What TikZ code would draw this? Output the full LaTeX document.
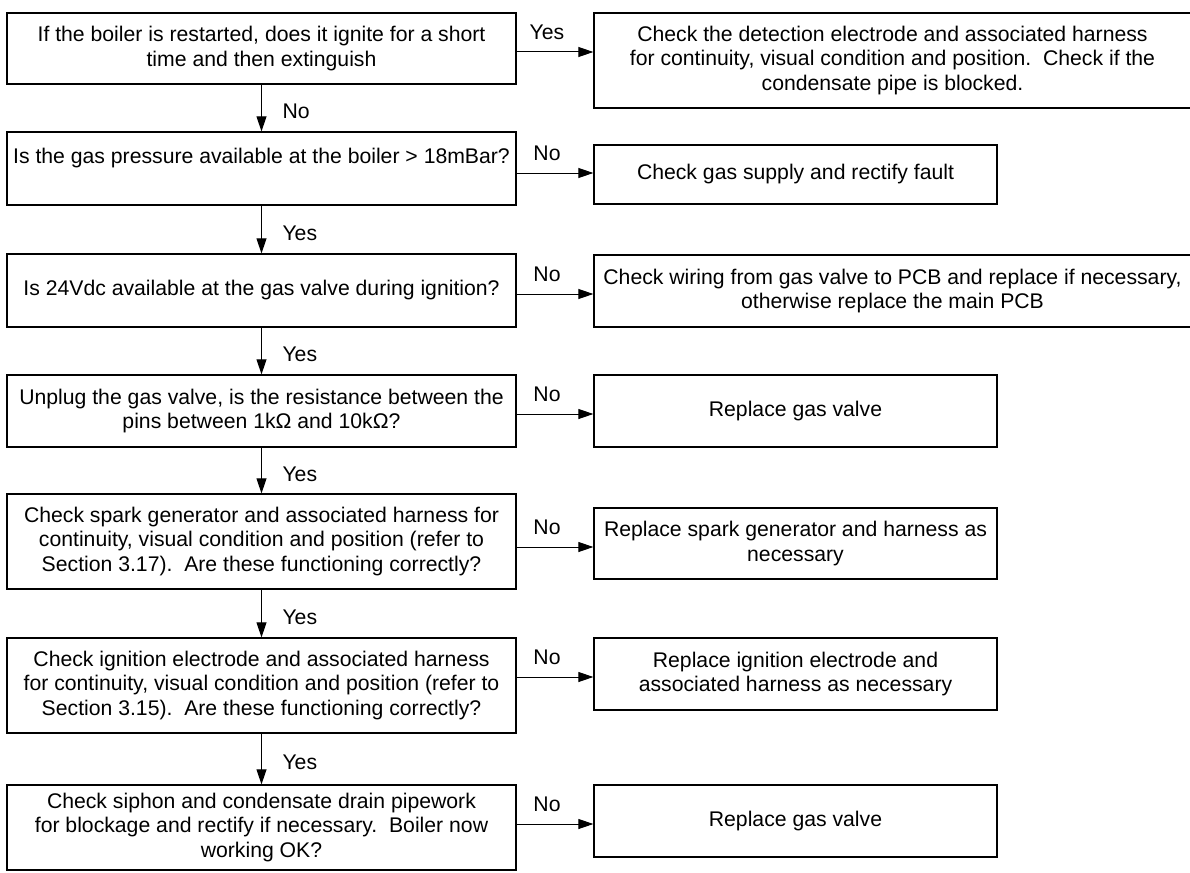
\documentclass[tikz,border=0pt]{standalone}
\usepackage{fontspec}
\setmainfont{Liberation Sans}
\usetikzlibrary{arrows.meta,calc}
\begin{document}
\begin{tikzpicture}[x=1pt,y=-1pt,
  box/.style={draw, line width=1.3pt, inner sep=0pt, align=center, font=\fontsize{21.2}{24.5}\selectfont},
  lbox/.style={box, minimum width=509pt},
  wbox/.style={box, minimum width=597pt},
  nbox/.style={box, minimum width=403pt},
  arr/.style={line width=1pt, -{Triangle[length=15pt,width=10pt]}},
  lab/.style={font=\fontsize{21.2}{24.5}\selectfont, inner sep=0pt}]
\useasboundingbox (0,0) rectangle (1190,872);

% left column
\node[lbox, minimum height=71pt] (L1) at (261.5,48.5) {If the boiler is restarted, does it ignite for a short\\time and then extinguish};
\node[lbox, minimum height=73pt] (L2) at (261.5,168.5) {Is the gas pressure available at the boiler > 18mBar?\\\mbox{}};
\node[lbox, minimum height=73pt] (L3) at (261.5,290.5) {Is 24Vdc available at the gas valve during ignition?};
\node[lbox, minimum height=72pt] (L4) at (261.5,411) {Unplug the gas valve, is the resistance between the\\pins between 1kΩ and 10kΩ?};
\node[lbox, minimum height=95pt] (L5) at (261.5,541.5) {Check spark generator and associated harness for\\continuity, visual condition and position (refer to\\Section 3.17).~\ Are these functioning correctly?};
\node[lbox, minimum height=95pt] (L6) at (261.5,685.5) {Check ignition electrode and associated harness\\for continuity, visual condition and position (refer to\\Section 3.15).~\ Are these functioning correctly?};
\node[lbox, minimum height=85pt] (L7) at (261.5,827.5) {Check siphon and condensate drain pipework\\for blockage and rectify if necessary.~\ Boiler now\\working OK?};

% right column
\node[wbox, minimum height=95pt] (R1) at (892.5,60.5) {Check the detection electrode and associated harness\\for continuity, visual condition and position.~\ Check if the\\condensate pipe is blocked.};
\node[nbox, minimum height=59pt] (R2) at (795.5,174.5) {Check gas supply and rectify fault};
\node[wbox, minimum height=72pt] (R3) at (892.5,291) {Check wiring from gas valve to PCB and replace if necessary,\\otherwise replace the main PCB};
\node[nbox, minimum height=72pt] (R4) at (795.5,411) {Replace gas valve};
\node[nbox, minimum height=71pt] (R5) at (795.5,543.5) {Replace spark generator and harness as\\necessary};
\node[nbox, minimum height=72pt] (R6) at (795.5,674) {Replace ignition electrode and\\associated harness as necessary};
\node[nbox, minimum height=72pt] (R7) at (795.5,821) {Replace gas valve};

% vertical arrows
\draw[arr] (L1.south) -- (L2.north) node[lab, anchor=west, pos=0.5, xshift=20.5pt, yshift=-3.5pt] (v1) {No};
\draw[arr] (L2.south) -- (L3.north) node[lab, anchor=west, pos=0.5, xshift=20.5pt, yshift=-3.5pt] (v2) {Yes};
\draw[arr] (L3.south) -- (L4.north) node[lab, anchor=west, pos=0.5, xshift=20.5pt, yshift=-3.5pt] (v3) {Yes};
\draw[arr] (L4.south) -- (L5.north) node[lab, anchor=west, pos=0.5, xshift=20.5pt, yshift=-3.5pt] (v4) {Yes};
\draw[arr] (L5.south) -- (L6.north) node[lab, anchor=west, pos=0.5, xshift=20.5pt, yshift=-3.5pt] (v5) {Yes};
\draw[arr] (L6.south) -- (L7.north) node[lab, anchor=west, pos=0.5, xshift=20.5pt, yshift=-3.5pt] (v6) {Yes};

% horizontal arrows
\draw[arr] ([yshift=-3.5pt]L1.east) -- ([yshift=-3.5pt]L1.east -| R1.west) node[lab, pos=0.5, xshift=-8pt, yshift=20pt] (h1) {Yes};
\draw[arr] ([yshift=-4.5pt]L2.east) -- ([yshift=-4.5pt]L2.east -| R2.west) node[lab, pos=0.5, xshift=-8pt, yshift=20pt] (h2) {No};
\draw[arr] ([yshift=-3.5pt]L3.east) -- ([yshift=-3.5pt]L3.east -| R3.west) node[lab, pos=0.5, xshift=-8pt, yshift=20pt] (h3) {No};
\draw[arr] ([yshift=-3pt]L4.east) -- ([yshift=-3pt]L4.east -| R4.west) node[lab, pos=0.5, xshift=-8pt, yshift=20pt] (h4) {No};
\draw[arr] ([yshift=-5.5pt]L5.east) -- ([yshift=-5.5pt]L5.east -| R5.west) node[lab, pos=0.5, xshift=-8pt, yshift=20pt] (h5) {No};
\draw[arr] ([yshift=8.5pt]L6.east) -- ([yshift=8.5pt]L6.east -| R6.west) node[lab, pos=0.5, xshift=-8pt, yshift=20pt] (h6) {No};
\draw[arr] ([yshift=3.5pt]L7.east) -- ([yshift=3.5pt]L7.east -| R7.west) node[lab, pos=0.5, xshift=-8pt, yshift=20pt] (h7) {No};
\end{tikzpicture}
\end{document}
